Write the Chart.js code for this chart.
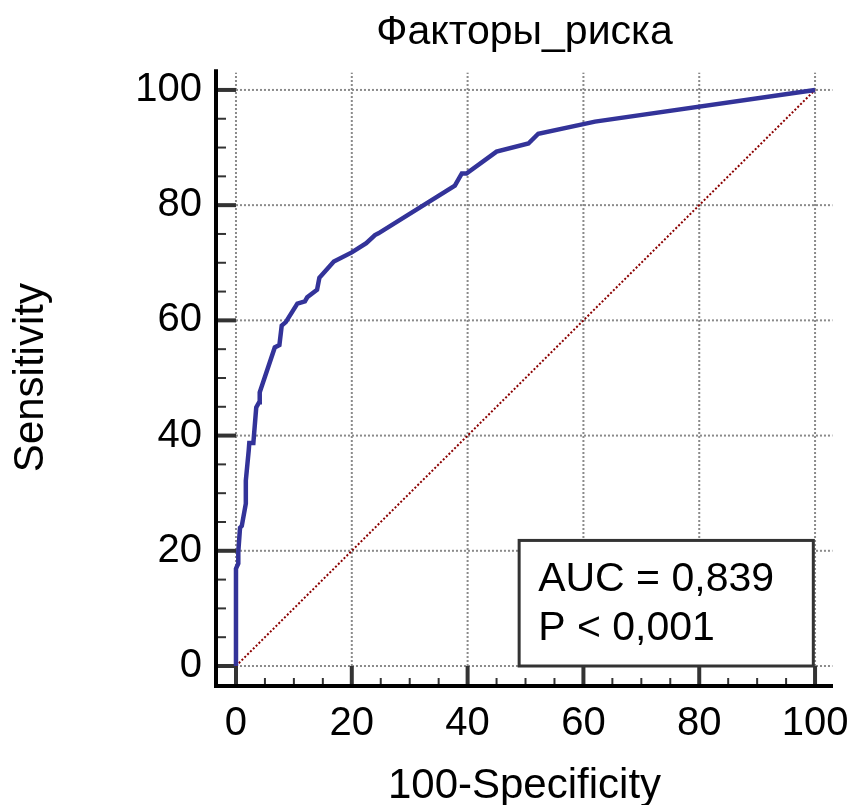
<!DOCTYPE html>
<html>
<head>
<meta charset="utf-8">
<script src="https://cdn.jsdelivr.net/npm/chart.js@4/dist/chart.umd.min.js"></script>
<style>
  body { margin: 0; background: #fff; }
  canvas { display: block; }
</style>
</head>
<body>
<canvas id="rocChart" width="850" height="805"></canvas>
<script>
const chartTitle = "Факторы_риска";
const xTitle = "100-Specificity";
const yTitle = "Sensitivity";
const tickValues = [0, 20, 40, 60, 80, 100];
const aucLines = ["AUC = 0,839", "P < 0,001"];

// ROC curve (100-Specificity, Sensitivity)
const fpr = [0, 0, 0.4, 0.4, 0.7, 1.0, 1.7, 1.7, 2.2, 2.3, 3.0, 3.5, 4.0, 4.1, 6.7, 7.5, 7.9, 8.6,
  10.6, 11.9, 12.3, 14.0, 14.4, 16.9, 20.0, 22.5, 24.0, 24.6, 37.8, 39.0, 39.8, 45.0, 50.5, 52.2, 62.0, 100];
const tpr = [0, 16.9, 17.8, 19.8, 24.0, 24.3, 28.2, 32.2, 37.4, 38.7, 38.7, 44.9, 45.8, 47.5, 55.3, 55.7, 59.1, 59.7,
  62.9, 63.3, 64.0, 65.3, 67.4, 70.2, 71.8, 73.4, 74.8, 75.1, 83.4, 85.5, 85.5, 89.3, 90.7, 92.4, 94.5, 100];
const diagX = [0, 100];
const diagY = [0, 100];

document.addEventListener("DOMContentLoaded", () => {
  const font = "'Liberation Sans', Arial, sans-serif";

  const frame = {
    id: "frame",
    beforeDatasetsDraw(chart) {
      const { ctx, scales: { x, y } } = chart;
      const x0 = x.getPixelForValue(0), xEnd = x.getPixelForValue(103);
      const y0 = y.getPixelForValue(0), yEnd = y.getPixelForValue(103);
      ctx.save();

      // dotted grid
      ctx.strokeStyle = "#8a8a8a";
      ctx.lineWidth = 2;
      ctx.setLineDash([2, 2]);
      tickValues.forEach(v => {
        const px = x.getPixelForValue(v);
        ctx.beginPath(); ctx.moveTo(px, y0); ctx.lineTo(px, yEnd); ctx.stroke();
        const py = y.getPixelForValue(v);
        ctx.beginPath(); ctx.moveTo(x0, py); ctx.lineTo(xEnd, py); ctx.stroke();
      });
      ctx.setLineDash([]);

      // tick marks
      const left = chart.chartArea.left, bottom = chart.chartArea.bottom;
      for (let v = 0; v <= 100; v += 5) {
        const major = v % 20 === 0;
        ctx.strokeStyle = "#333";
        ctx.lineWidth = major ? 4 : 2;
        const py = y.getPixelForValue(v);
        ctx.beginPath(); ctx.moveTo(left, py); ctx.lineTo(major ? x0 : left + 10, py); ctx.stroke();
        const px = x.getPixelForValue(v);
        ctx.beginPath(); ctx.moveTo(px, bottom); ctx.lineTo(px, major ? y0 : bottom - 8); ctx.stroke();
      }

      // axis lines
      ctx.strokeStyle = "#000";
      ctx.lineWidth = 4;
      ctx.beginPath();
      ctx.moveTo(left, chart.chartArea.top);
      ctx.lineTo(left, bottom);
      ctx.lineTo(chart.chartArea.right, bottom);
      ctx.stroke();
      ctx.restore();
    }
  };

  const aucBox = {
    id: "aucBox",
    afterDatasetsDraw(chart) {
      const { ctx, scales: { x, y } } = chart;
      const l = x.getPixelForValue(48.9), r = x.getPixelForValue(99.7);
      const t = y.getPixelForValue(21.8), b = y.getPixelForValue(0);
      ctx.save();
      ctx.fillStyle = "#fff";
      ctx.fillRect(l, t, r - l, b - t);
      ctx.strokeStyle = "#333";
      ctx.lineWidth = 3;
      ctx.strokeRect(l, t, r - l, b - t);
      ctx.fillStyle = "#000";
      ctx.font = `41px ${font}`;
      ctx.textBaseline = "alphabetic";
      aucLines.forEach((line, i) => ctx.fillText(line, l + 19, t + 51 + i * 49));
      ctx.restore();
    }
  };

  const fixedTicks = scale => {
    scale.ticks = tickValues.map(v => ({ value: v }));
  };

  new Chart(document.getElementById("rocChart"), {
    type: "line",
    data: {
      datasets: [
        {
          data: fpr.map((v, i) => ({ x: v, y: tpr[i] })),
          borderColor: "#333399",
          borderWidth: 4.5,
          pointRadius: 0,
          tension: 0,
          order: 0
        },
        {
          data: diagX.map((v, i) => ({ x: v, y: diagY[i] })),
          borderColor: "#8b0000",
          borderWidth: 2,
          borderDash: [2, 2],
          pointRadius: 0,
          order: 1
        }
      ]
    },
    options: {
      responsive: false,
      animation: false,
      layout: { padding: { left: 0, right: 17, top: 0, bottom: 0 } },
      plugins: {
        legend: { display: false },
        tooltip: { enabled: false },
        title: {
          display: true,
          text: chartTitle,
          fullSize: false,
          color: "#000",
          font: { family: font, size: 41, weight: "normal" },
          padding: { top: 8, bottom: 12 }
        }
      },
      scales: {
        x: {
          type: "linear",
          min: -3.45,
          max: 103.1,
          grid: { display: false, drawTicks: false },
          border: { display: false },
          afterBuildTicks: fixedTicks,
          afterFit: scale => {
            scale.height = 119;
            scale.paddingLeft = 0;
            scale.paddingRight = 0;
          },
          ticks: { color: "#000", padding: 14, maxRotation: 0, font: { family: font, size: 40 } },
          title: {
            display: true,
            text: xTitle,
            color: "#000",
            padding: 0,
            font: { family: font, size: 42, lineHeight: 0.9 }
          }
        },
        y: {
          type: "linear",
          min: -3.47,
          max: 103.6,
          grid: { display: false, drawTicks: false },
          border: { display: false },
          afterBuildTicks: fixedTicks,
          afterFit: scale => {
            scale.width = 216;
            scale.paddingTop = 0;
            scale.paddingBottom = 0;
          },
          ticks: { color: "#000", padding: 14, font: { family: font, size: 40 } },
          title: {
            display: true,
            text: yTitle,
            color: "#000",
            padding: { top: 6, bottom: 0 },
            font: { family: font, size: 42 }
          }
        }
      }
    },
    plugins: [frame, aucBox]
  });
});
</script>
</body>
</html>
